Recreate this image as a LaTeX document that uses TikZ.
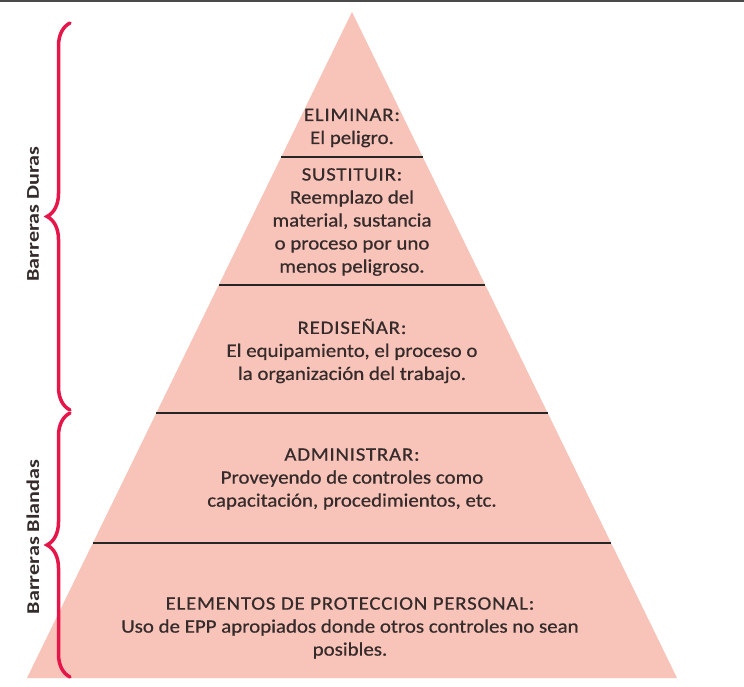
\documentclass[tikz,border=0pt]{standalone}
\usepackage{fontspec}
\setmainfont{Carlito}[FakeStretch=1.1,FakeBold=0.6]
\newfontfamily\sidefont{Carlito}[FakeStretch=1.23]
\usetikzlibrary{calc,decorations.pathreplacing}
\definecolor{pyrfill}{HTML}{F8C3B9}
\definecolor{bracered}{HTML}{E5174A}
\definecolor{txtcol}{HTML}{352B2B}
\definecolor{framecol}{HTML}{4A4A4A}
\newcommand{\hd}[1]{{\addfontfeature{LetterSpace=4}#1}}
\begin{document}
\begin{tikzpicture}[x=1pt,y=-1pt,
  blocktext/.style={align=center, text=txtcol, inner sep=0pt,
    font=\fontsize{19}{23}\selectfont},
  sidelabel/.style={text=txtcol, inner sep=0pt, rotate=90,
    font=\sidefont\bfseries\fontsize{18}{20}\selectfont},
  divider/.style={draw=black!85, line width=1.5pt},
  bracestyle/.style={draw=bracered, line width=3.5pt, line cap=round,
    decorate, decoration={brace, amplitude=23pt}}]
\useasboundingbox (0,0) rectangle (744,687);
\fill[white] (0,0) rectangle (744,687);
\draw[framecol, line width=2.5pt] (0,1) -- (744,1);
% pyramid
\coordinate (apex) at (352,12);
\coordinate (bl) at (27,678);
\coordinate (br) at (677,678);
\fill[pyrfill] (apex) -- (bl) -- (br) -- cycle;
% dividers
\coordinate (l1) at ($(apex)!0.2177!(bl)$);
\coordinate (r1) at ($(apex)!0.2177!(br)$);
\coordinate (l2) at ($(apex)!0.4099!(bl)$);
\coordinate (r2) at ($(apex)!0.4099!(br)$);
\coordinate (l3) at ($(apex)!0.6021!(bl)$);
\coordinate (r3) at ($(apex)!0.6021!(br)$);
\coordinate (l4) at ($(apex)!0.7973!(bl)$);
\coordinate (r4) at ($(apex)!0.7973!(br)$);
\draw[divider] (l1) -- (r1);
\draw[divider] (l2) -- (r2);
\draw[divider] (l3) -- (r3);
\draw[divider] (l4) -- (r4);
% texts
\node[blocktext] (t1) at (352,128) {\hd{ELIMINAR:}\\El peligro.};
\node[blocktext] (t2) at (352,222) {\hd{SUSTITUIR:}\\Reemplazo del\\material, sustancia\\o proceso por uno\\menos peligroso.};
\node[blocktext] (t3) at (352,351) {\hd{REDISEÑAR:}\\El equipamiento, el proceso o\\la organización del trabajo.};
\node[blocktext] (t4) at (352,479) {\hd{ADMINISTRAR:}\\Proveyendo de controles como\\capacitación, procedimientos, etc.};
\node[blocktext] (t5) at (350,628) {\hd{ELEMENTOS DE PROTECCION PERSONAL:}\\Uso de EPP apropiados donde otros controles no sean\\posibles.};
% braces
\coordinate (b1top) at (70,23);
\coordinate (b1bot) at (70,410);
\coordinate (b2top) at (70,413);
\coordinate (b2bot) at (70,677);
\draw[bracestyle] (b1bot) -- (b1top);
\draw[bracestyle] (b2bot) -- (b2top);
\node[sidelabel] (s1) at (33,214) {Barreras Duras};
\node[sidelabel] (s2) at (33,537) {Barreras Blandas};
\end{tikzpicture}
\end{document}
